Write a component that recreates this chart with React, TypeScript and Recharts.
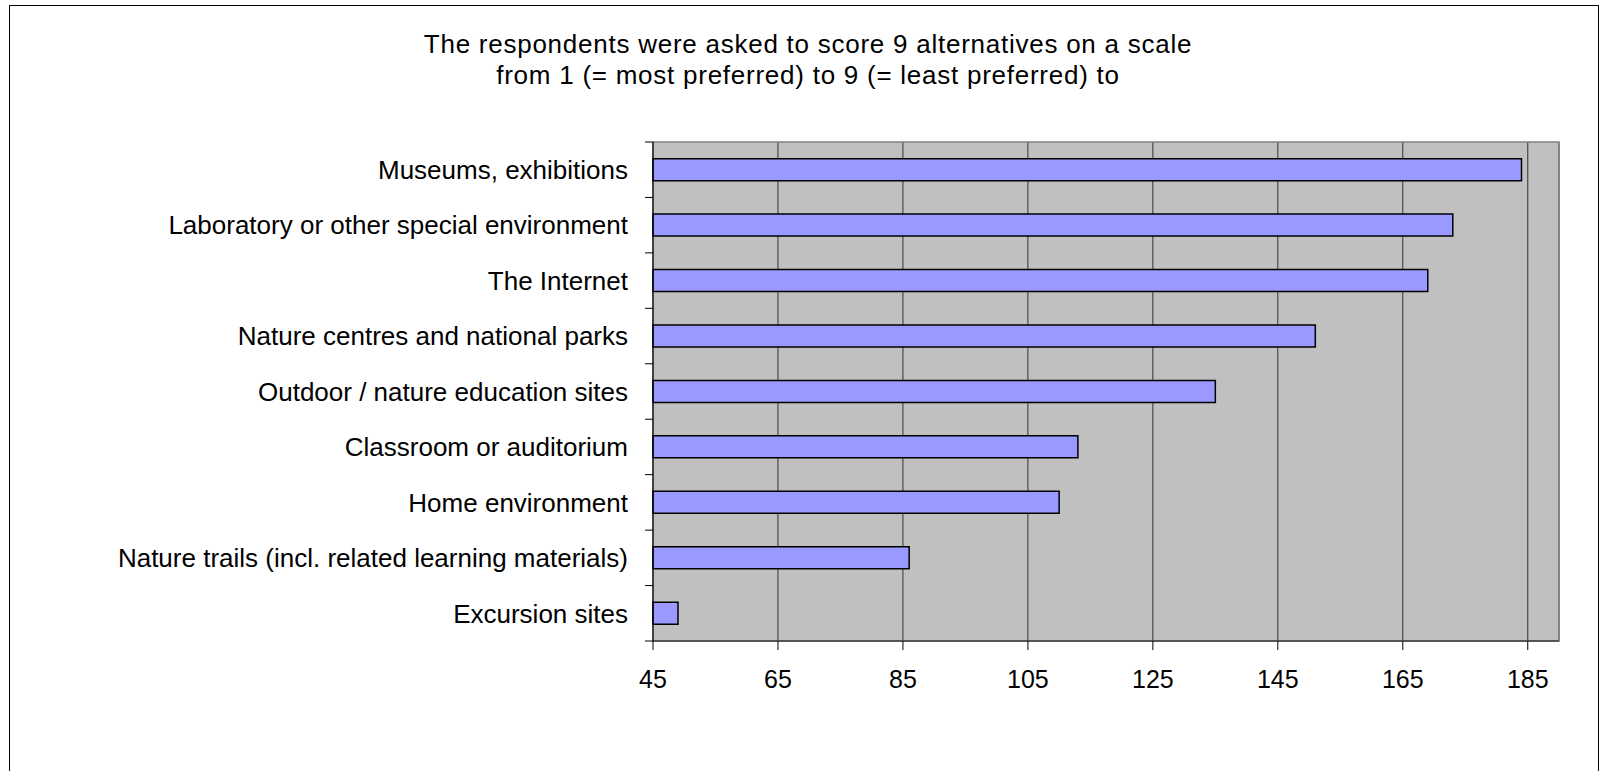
import React from 'react';
import {
  BarChart,
  Bar,
  XAxis,
  YAxis,
  CartesianGrid,
  ReferenceArea,
} from 'recharts';

// Venue categories, top to bottom
const categories = [
  'Museums, exhibitions',
  'Laboratory or other special environment',
  'The Internet',
  'Nature centres and national parks',
  'Outdoor / nature education sites',
  'Classroom or auditorium',
  'Home environment',
  'Nature trails (incl. related learning materials)',
  'Excursion sites',
];

// Summed preference scores
const scores = [184, 173, 169, 151, 135, 113, 110, 86, 49];

const xTicks = [45, 65, 85, 105, 125, 145, 165, 185];
const xDomain = [45, 190];

const titleLines = [
  'The respondents were asked to score 9 alternatives on a scale',
  'from 1 (= most preferred) to 9 (= least preferred) to',
];

const data = categories.map((name, i) => ({ name, score: scores[i] }));

const FONT = '"Liberation Sans", Arial, Helvetica, sans-serif';
const TICK_SIZE = 8;
const TICK_MARGIN = 17;

/**
 * Y tick: label at band centre, tick marks on band boundaries (Excel style)
 */
function CategoryTick(props: any) {
  const { x, y, payload, index } = props;
  const half = payload && typeof payload.offset === 'number' ? payload.offset : 0;
  const axisX = x + TICK_MARGIN + TICK_SIZE;
  const last = index === categories.length - 1;
  return (
    <g>
      <line
        x1={axisX - TICK_SIZE}
        x2={axisX}
        y1={y - half}
        y2={y - half}
        stroke="#000"
        strokeWidth={1}
      />
      {last && (
        <line
          x1={axisX - TICK_SIZE}
          x2={axisX}
          y1={y + half}
          y2={y + half}
          stroke="#000"
          strokeWidth={1}
        />
      )}
      <text
        x={x}
        y={y}
        dy="0.355em"
        textAnchor="end"
        fill="#000"
        fontSize={26}
        fontFamily={FONT}
      >
        {payload.value}
      </text>
    </g>
  );
}

export default function App() {
  return (
    <div
      style={{
        position: 'absolute',
        left: 0,
        top: 0,
        width: 1604,
        height: 771,
        overflow: 'hidden',
        background: '#fff',
        fontFamily: FONT,
      }}
    >
      {/* Outer frame */}
      <div
        style={{
          position: 'absolute',
          left: 9,
          top: 5,
          width: 1590,
          height: 790,
          border: '1px solid #000',
          boxSizing: 'border-box',
        }}
      />

      {/* Title */}
      <div
        style={{
          position: 'absolute',
          left: 208,
          top: 29,
          width: 1200,
          textAlign: 'center',
          fontSize: 26,
          lineHeight: '31px',
          color: '#000',
          letterSpacing: 0.75,
        }}
      >
        {titleLines.map((t) => (
          <div key={t}>{t}</div>
        ))}
      </div>

      <div style={{ position: 'absolute', left: 0, top: 0 }}>
        <BarChart
          width={1604}
          height={771}
          data={data}
          layout="vertical"
          margin={{ top: 142, right: 45, bottom: 90, left: 0 }}
          barCategoryGap="30%"
        >
          <CartesianGrid
            fill="#C0C0C0"
            stroke="#333"
            strokeWidth={1}
            horizontal={false}
            vertical={true}
          />
          <ReferenceArea
            x1={xDomain[0]}
            x2={xDomain[1]}
            fill="none"
            stroke="#808080"
            strokeWidth={1.5}
          />
          <XAxis
            type="number"
            domain={xDomain}
            ticks={xTicks}
            interval={0}
            height={40}
            tickSize={9}
            tickMargin={20}
            axisLine={{ stroke: '#404040', strokeWidth: 1.5 }}
            tickLine={{ stroke: '#000' }}
            tick={{ fill: '#000', fontSize: 25, fontFamily: FONT }}
          />
          <YAxis
            type="category"
            dataKey="name"
            width={653}
            interval={0}
            tickSize={TICK_SIZE}
            tickMargin={TICK_MARGIN}
            axisLine={{ stroke: '#000', strokeWidth: 1 }}
            tickLine={{ stroke: 'transparent' }}
            tick={<CategoryTick />}
          />
          <Bar
            dataKey="score"
            fill="#9999FF"
            stroke="#000"
            strokeWidth={1.5}
            isAnimationActive={false}
          />
        </BarChart>
      </div>
    </div>
  );
}
